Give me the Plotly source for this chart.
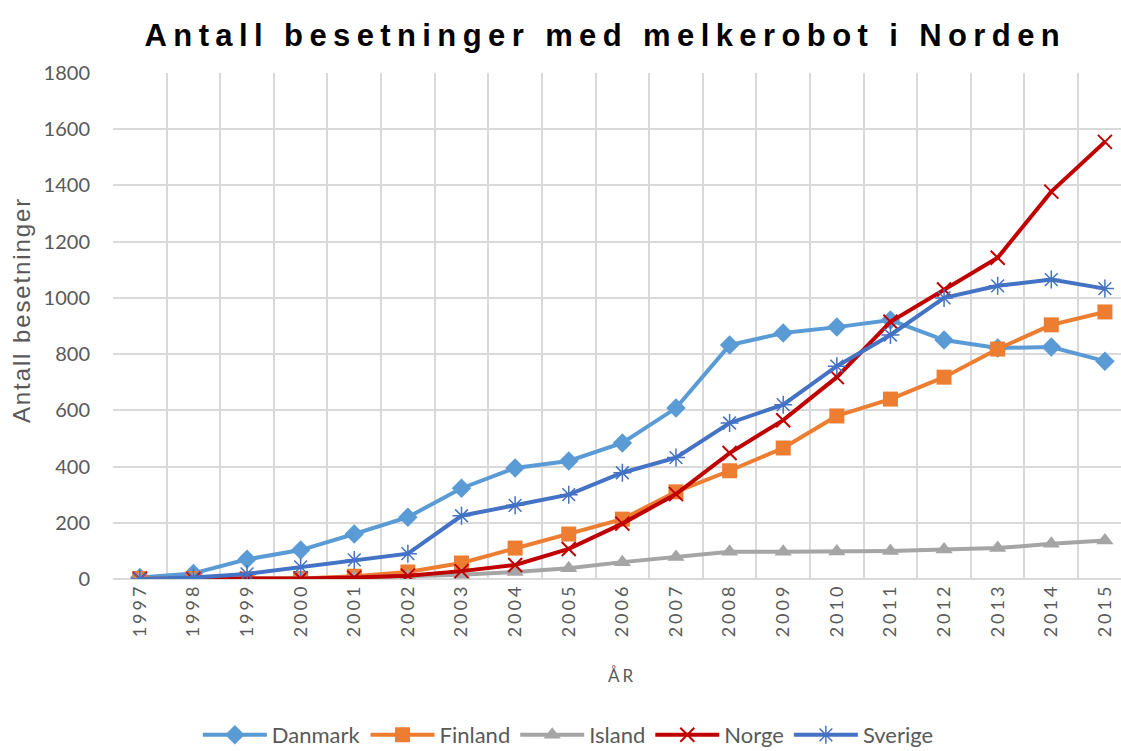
import plotly.graph_objects as go

years = [str(y) for y in range(1997, 2016)]

danmark = [5, 20, 70, 103, 160, 220, 323, 395, 420, 484, 608, 832, 875, 896, 921, 850, 822, 825, 775]
finland = [2, 2, 0, 2, 10, 25, 57, 110, 160, 213, 310, 385, 466, 580, 640, 718, 818, 904, 950]
island = [0, 0, 0, 2, 5, 10, 15, 25, 38, 60, 78, 97, 97, 98, 100, 105, 110, 125, 137]
norge = [0, 0, 0, 2, 5, 12, 28, 50, 107, 197, 302, 448, 565, 718, 915, 1030, 1143, 1378, 1555]
sverige = [0, 5, 18, 43, 68, 90, 225, 262, 300, 378, 432, 555, 620, 757, 868, 1000, 1043, 1065, 1033]

series = [
    ("Danmark", danmark, "#5B9BD5", "diamond", 15, 0),
    ("Finland", finland, "#ED7D31", "square", 15, 0),
    ("Island", island, "#A5A5A5", "triangle-up", 15, 0),
    ("Norge", norge, "#C00000", "x-thin-open", 14, 2),
    ("Sverige", sverige, "#4472C4", "asterisk-open", 15, 1.5),
]

fig = go.Figure()
for name, vals, color, sym, size, mlw in series:
    fig.add_trace(go.Scatter(
        x=years, y=vals, name=name, mode="lines+markers",
        line=dict(color=color, width=4),
        marker=dict(symbol=sym, size=size, color=color,
                    line=dict(color=color, width=mlw)),
    ))

W, H = 1121, 751
L, R, T, B = 113, 0, 73, 172
pw, ph = W - L - R, H - T - B

def px(x):
    return (x - L) / pw

def py(y):
    return (H - B - y) / ph

grid = "#D9D9D9"
fig.update_layout(
    width=W, height=H,
    paper_bgcolor="white", plot_bgcolor="white",
    margin=dict(l=L, r=R, t=T, b=B),
    title=dict(text="<b>Antall besetninger med melkerobot i Norden</b>",
               font=dict(family="Liberation Sans, Arial", size=31, color="#000000"),
               x=0.54, xref="container", xanchor="center",
               y=1 - 35 / H, yref="container", yanchor="middle"),
    xaxis=dict(type="category", tickson="boundaries", showgrid=True,
               gridcolor=grid, gridwidth=1.5, range=[-0.5, 18.3],
               tickangle=-90, tickfont=dict(family="Lato", size=18, color="#595959"),
               ticks="outside", ticklen=17, tickcolor="rgba(0,0,0,0)",
               showline=False, zeroline=False),
    yaxis=dict(range=[0, 1800], dtick=200, showgrid=True, gridcolor=grid, gridwidth=1.5,
               tickfont=dict(family="Lato", size=20, color="#595959"),
               ticks="outside", ticklen=18, tickcolor="rgba(0,0,0,0)",
               zeroline=True, zerolinecolor=grid, zerolinewidth=1.5, showline=False),
    legend=dict(orientation="h", x=0.507, xref="container", xanchor="center",
                y=1 - 735 / H, yref="container", yanchor="middle",
                itemwidth=64,
                font=dict(family="Lato", size=22, color="#595959")),
    showlegend=True,
    annotations=[
        dict(text="ÅR", x=px(622), y=py(675), xref="paper", yref="paper",
             xanchor="center", yanchor="middle", showarrow=False,
             font=dict(family="Lato", size=17, color="#595959")),
        dict(text="Antall besetninger", x=px(21), y=py(310), xref="paper", yref="paper",
             xanchor="center", yanchor="middle", showarrow=False, textangle=-90,
             font=dict(family="Liberation Sans, Arial", size=24, color="#595959")),
    ],
)

post = """
document.body.style.margin = '0';
var gd = document.getElementById('{plot_id}');
function spacing(){
  var t = gd.querySelector('.gtitle'); if (t) t.style.letterSpacing = '6.4px';
  gd.querySelectorAll('.xtick text').forEach(function(e){ e.style.letterSpacing = '3px'; });
  gd.querySelectorAll('.annotation-text').forEach(function(e){
    if (e.textContent === 'ÅR') e.style.letterSpacing = '3px';
    if (e.textContent === 'Antall besetninger') e.style.letterSpacing = '1.9px';
  });
}
spacing();
gd.on('plotly_afterplot', spacing);
"""
fig.write_html("out.html", post_script=post, config={"displayModeBar": False})
